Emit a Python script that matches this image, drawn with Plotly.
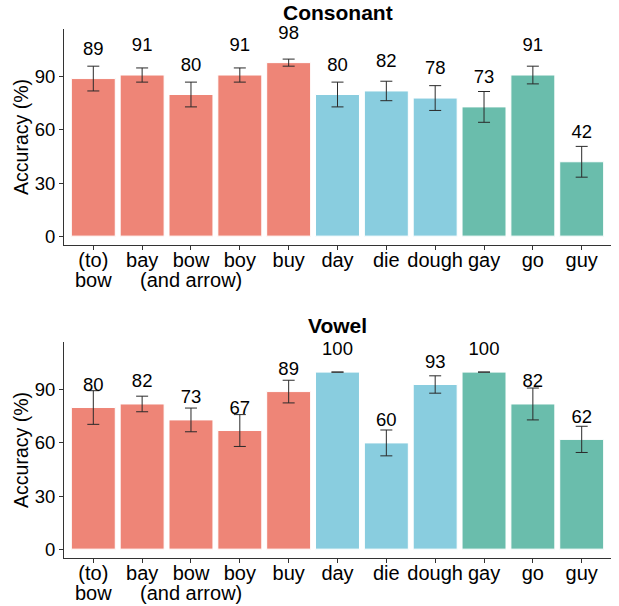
import plotly.graph_objects as go
from plotly.subplots import make_subplots

categories = ["(to)\nbow", "bay", "bow\n(and arrow)", "boy", "buy", "day", "die", "dough", "gay", "go", "guy"]
groups = ["b", "b", "b", "b", "b", "d", "d", "d", "g", "g", "g"]
consonant_vals = [89, 91, 80, 91, 98, 80, 82, 78, 73, 91, 42]
consonant_err = [7, 4, 7, 4, 2, 7, 5.5, 7, 8.7, 5, 8.7]
vowel_vals = [80, 82, 73, 67, 89, 100, 60, 93, 100, 82, 62]
vowel_err = [9.5, 4.4, 6.7, 9, 6.4, 0, 7.3, 4.9, 0, 9, 7.4]

group_colors = {"b": "#EE8577", "d": "#89CDDF", "g": "#6ABDAC"}
colors = [group_colors[g] for g in groups]
xpos = list(range(len(categories)))
first_lines = [c.split("\n")[0] for c in categories]
second_lines = [c.split("\n")[1] if "\n" in c else "" for c in categories]

fig = make_subplots(rows=2, cols=1, vertical_spacing=0.1834)

panels = [(consonant_vals, consonant_err, 16, 1), (vowel_vals, vowel_err, 12, 2)]

FONT = "Liberation Sans, Arial"
annotations = []
for vals, errs, off, row in panels:
    fig.add_trace(go.Bar(
        x=xpos, y=vals, width=0.9,
        marker=dict(color=colors, line=dict(color="white", width=1)),
        error_y=dict(type="data", array=errs, visible=True, color="#2a2a2a", thickness=1, width=6),
        showlegend=False, hoverinfo="skip"), row=row, col=1)
    fig.add_trace(go.Scatter(
        x=xpos, y=[v + off for v in vals], mode="text",
        text=[str(v) for v in vals],
        textfont=dict(size=18.5, color="black", family=FONT),
        textposition="middle center", showlegend=False, hoverinfo="skip", cliponaxis=False), row=row, col=1)
    xref = "x" if row == 1 else "x2"
    yref = "y domain" if row == 1 else "y2 domain"
    for xi, t in zip(xpos, second_lines):
        if t:
            annotations.append(dict(text=t, x=xi, y=0, xref=xref, yref=yref, xanchor="center",
                                    yanchor="middle", yshift=-35, showarrow=False,
                                    font=dict(size=20, color="black", family=FONT)))

xtick_font = dict(size=20, color="black", family=FONT)
ytick_font = dict(size=18.5, color="black", family=FONT)
for row in (1, 2):
    fig.update_xaxes(row=row, col=1, range=[-0.6, 10.6], tickvals=xpos, ticktext=first_lines,
                     tickangle=0, automargin=False, ticklabelstandoff=-7,
                     showline=True, linecolor="#333333", linewidth=1, ticks="outside", ticklen=4,
                     tickcolor="#333333", showgrid=False, zeroline=False, tickfont=xtick_font)
    fig.update_yaxes(row=row, col=1, range=[-5, 117], tickvals=[0, 30, 60, 90], automargin=False,
                     showline=True, linecolor="#333333", linewidth=1, ticks="outside", ticklen=4,
                     tickcolor="#333333", showgrid=False, zeroline=False, tickfont=ytick_font,
                     title=dict(text="Accuracy (%)", font=dict(size=19.5, color="black", family=FONT), standoff=0))

annotations += [
    dict(text="<b>Consonant</b>", x=0.5, y=1.0, xref="paper", yref="paper", xanchor="center",
         yanchor="bottom", yshift=3, showarrow=False, font=dict(size=21, color="black", family=FONT)),
    dict(text="<b>Vowel</b>", x=0.5, y=0.4083, xref="paper", yref="paper", xanchor="center",
         yanchor="bottom", yshift=3, showarrow=False, font=dict(size=21, color="black", family=FONT)),
]

fig.update_layout(
    width=619, height=606,
    margin=dict(l=64, r=8, t=29, b=48),
    plot_bgcolor="white", paper_bgcolor="white",
    font=dict(family=FONT, color="black"),
    annotations=annotations,
)

fig.write_html("out.html")
